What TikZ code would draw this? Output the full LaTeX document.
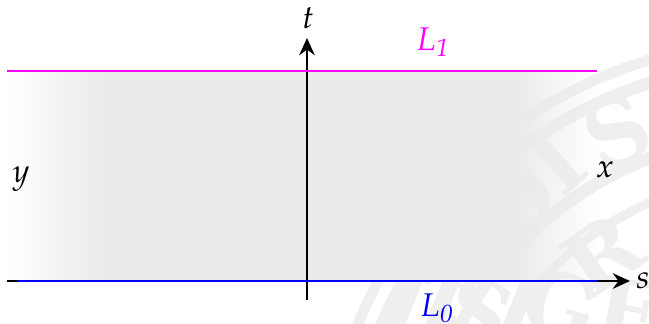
\documentclass[tikz,border=0pt]{standalone}
\usepackage[no-math]{fontspec}
\usepackage{mathpazo}
\usepackage{tikz}
\usetikzlibrary{arrows.meta, fadings}
\newfontfamily\sealfont{DejaVu Serif}
\definecolor{bandgray}{HTML}{EBEBEB}
\definecolor{sealgray}{HTML}{EFEFEF}
\definecolor{lonecolor}{HTML}{FF00FF}
\definecolor{lzerocolor}{HTML}{0000FF}
\tikzfading[name=fadeleft, left color=transparent!100, right color=transparent!0]
\tikzfading[name=faderight, left color=transparent!0, right color=transparent!100]
\tikzset{
    axisline/.style={line width=0.7pt, -{Stealth[length=5.5pt, width=5pt, inset=1.8pt]}},
    bandline/.style={line width=0.7pt},
    sealring/.style={draw=sealgray, line width=#1},
    sealletter/.style={text=sealgray, font=\sealfont\bfseries\fontsize{28}{28}\selectfont, inner sep=0pt},
    labeltext/.style={font=\fontsize{10.5}{12}\selectfont},
}

\begin{document}
\begin{tikzpicture}[x=0.32pt, y=-0.32pt]
    \useasboundingbox (0,0) rectangle (649,323);

    % seal behind everything
    \begin{scope}
        \clip (0,0) rectangle (649,323);
        \coordinate (sealcenter) at (780,497);
        \draw[sealring=3.4pt] (sealcenter) circle [radius=456];
        \draw[sealring=4pt] (sealcenter) circle [radius=434];
        \draw[sealring=4pt] (sealcenter) circle [radius=363];
        \draw[sealring=3pt] (sealcenter) circle [radius=322];
        \node[sealletter, rotate=23] (sealS) at (617,132) {S};
        \node[sealletter, rotate=42] (sealI) at (556,162) {I};
        \node[sealletter, rotate=50] (sealD) at (515,205) {D};
        \node[sealletter, rotate=35] (sealR) at (602,255) {R};
        \node[sealletter, rotate=-22] (sealA) at (405,305) {I};
        \node[sealletter, rotate=-22] (sealB) at (440,310) {I};
        \node[sealletter, rotate=-22] (sealC) at (480,312) {S};
        \node[sealletter, rotate=-22] (sealF) at (518,310) {I};
        \node[sealletter, rotate=-15] (sealG) at (561,305) {G};
        \node[sealletter, rotate=-10] (sealE) at (630,312) {E};
    \end{scope}

    % shaded band
    \fill[bandgray, path fading=fadeleft] (7,71) rectangle (100,281);
    \fill[bandgray] (100,71) rectangle (520,281);
    \fill[bandgray, path fading=faderight] (520,71) rectangle (597,281);

    \coordinate (topleft) at (7,71);
    \coordinate (topright) at (597,71);
    \coordinate (botleft) at (7,281);
    \coordinate (botstart) at (17,281);
    \coordinate (botright) at (597,281);
    \coordinate (tfoot) at (307,300);

    \node[labeltext] (slabel) at (643,281) {$s$};
    \node[labeltext] (tlabel) at (308,18) {$t$};
    \node[labeltext, text=lonecolor] (Lone) at (433,42) {$L_{\mathit{1}}$};
    \node[labeltext, text=lzerocolor] (Lzero) at (437,308) {$L_{\mathit{0}}$};
    \node[labeltext] (ylabel) at (21,179) {$y$};
    \node[labeltext] (xlabel) at (605,170) {$x$};

    % axes and the two lines
    \draw[axisline] (botleft) -- (630,281) coordinate (stip);
    \draw[axisline] (tfoot) -- (307,38) coordinate (ttip);
    \draw[bandline, lonecolor] (topleft) -- (topright);
    \draw[bandline, lzerocolor] (botstart) -- (botright);
\end{tikzpicture}
\end{document}
